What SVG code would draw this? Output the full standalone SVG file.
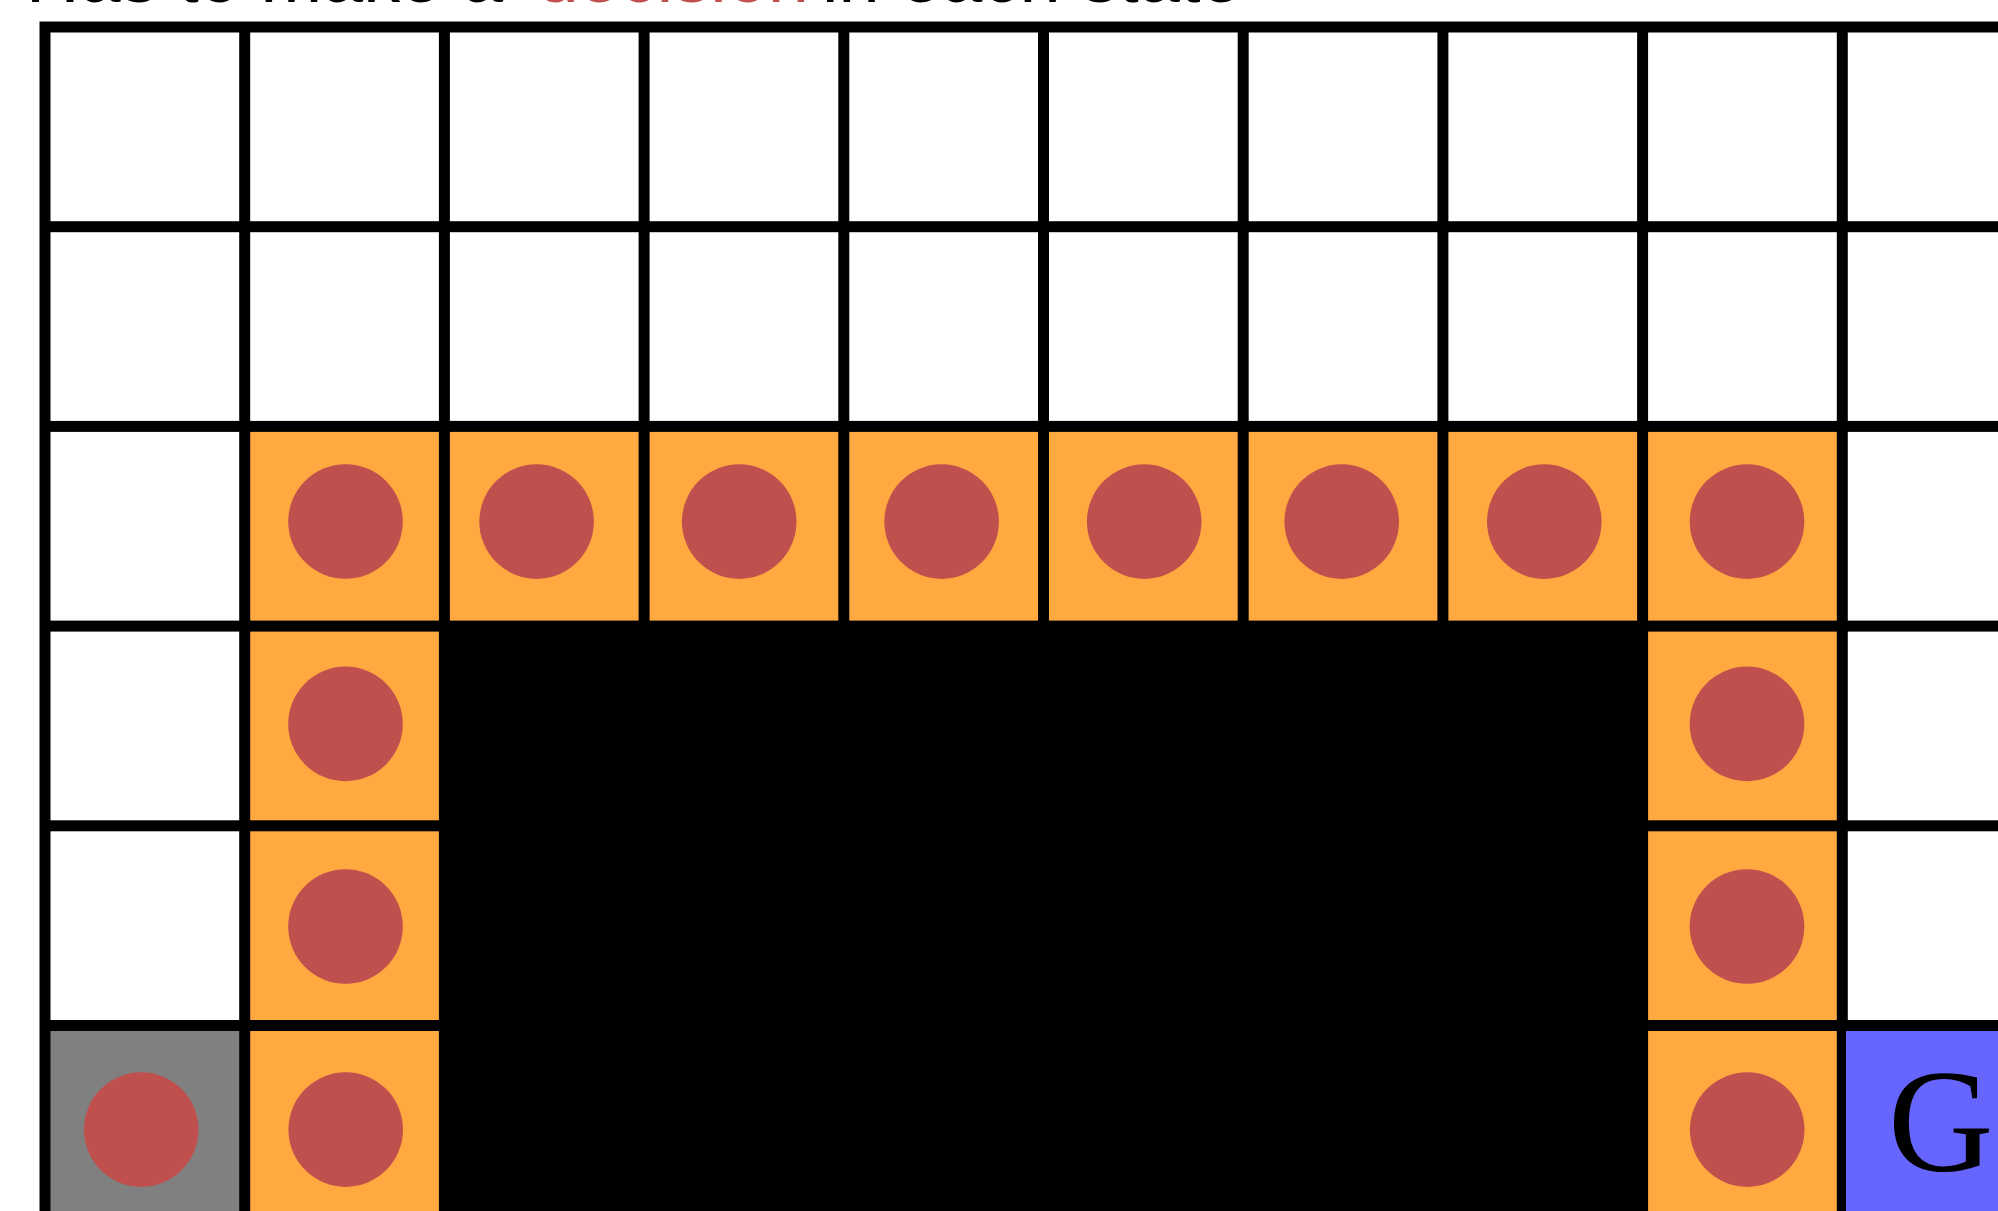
<svg xmlns="http://www.w3.org/2000/svg" width="1998" height="1211" viewBox="0 0 1998 1211">
  <style>
    .w { fill: #FFFFFF; }
    .o { fill: #FFA940; }
    .g { fill: #808080; }
    .b { fill: #6666FF; }
    .dot { fill: #C0504D; }
    .title { font-family: "Liberation Sans", Arial, sans-serif; font-size: 74px; fill: #000000; }
    .red { fill: #C0504D; }
    .goal { font-family: "Liberation Serif", "Times New Roman", serif; font-size: 146px; fill: #000000; }
  </style>
  <rect x="0" y="0" width="1998" height="1211" fill="#FFFFFF"/>

  <g id="title">
    <text class="title" x="26" y="2">Has to make a</text>
    <text class="title red" x="537.5" y="2">decision</text>
    <text class="title" x="822" y="2">in each state</text>
  </g>

  <g id="grid">
    <rect id="walls" x="39.5" y="21.5" width="1958.5" height="1189.5" fill="#000000"/>

    <!-- row 0 -->
    <rect class="w" x="50.5" y="32.5" width="188.7" height="188.7"/>
    <rect class="w" x="250.2" y="32.5" width="188.7" height="188.7"/>
    <rect class="w" x="449.9" y="32.5" width="188.7" height="188.7"/>
    <rect class="w" x="649.6" y="32.5" width="188.7" height="188.7"/>
    <rect class="w" x="849.3" y="32.5" width="188.7" height="188.7"/>
    <rect class="w" x="1049" y="32.5" width="188.7" height="188.7"/>
    <rect class="w" x="1248.7" y="32.5" width="188.7" height="188.7"/>
    <rect class="w" x="1448.4" y="32.5" width="188.7" height="188.7"/>
    <rect class="w" x="1648.1" y="32.5" width="188.7" height="188.7"/>
    <rect class="w" x="1847.8" y="32.5" width="188.7" height="188.7"/>

    <!-- row 1 -->
    <rect class="w" x="50.5" y="232.2" width="188.7" height="188.7"/>
    <rect class="w" x="250.2" y="232.2" width="188.7" height="188.7"/>
    <rect class="w" x="449.9" y="232.2" width="188.7" height="188.7"/>
    <rect class="w" x="649.6" y="232.2" width="188.7" height="188.7"/>
    <rect class="w" x="849.3" y="232.2" width="188.7" height="188.7"/>
    <rect class="w" x="1049" y="232.2" width="188.7" height="188.7"/>
    <rect class="w" x="1248.7" y="232.2" width="188.7" height="188.7"/>
    <rect class="w" x="1448.4" y="232.2" width="188.7" height="188.7"/>
    <rect class="w" x="1648.1" y="232.2" width="188.7" height="188.7"/>
    <rect class="w" x="1847.8" y="232.2" width="188.7" height="188.7"/>

    <!-- row 2 -->
    <rect class="w" x="50.5" y="431.9" width="188.7" height="188.7"/>
    <rect class="o" x="250.2" y="431.9" width="188.7" height="188.7"/>
    <rect class="o" x="449.9" y="431.9" width="188.7" height="188.7"/>
    <rect class="o" x="649.6" y="431.9" width="188.7" height="188.7"/>
    <rect class="o" x="849.3" y="431.9" width="188.7" height="188.7"/>
    <rect class="o" x="1049" y="431.9" width="188.7" height="188.7"/>
    <rect class="o" x="1248.7" y="431.9" width="188.7" height="188.7"/>
    <rect class="o" x="1448.4" y="431.9" width="188.7" height="188.7"/>
    <rect class="o" x="1648.1" y="431.9" width="188.7" height="188.7"/>
    <rect class="w" x="1847.8" y="431.9" width="188.7" height="188.7"/>

    <!-- row 3 -->
    <rect class="w" x="50.5" y="631.6" width="188.7" height="188.7"/>
    <rect class="o" x="250.2" y="631.6" width="188.7" height="188.7"/>
    <rect class="o" x="1648.1" y="631.6" width="188.7" height="188.7"/>
    <rect class="w" x="1847.8" y="631.6" width="188.7" height="188.7"/>

    <!-- row 4 -->
    <rect class="w" x="50.5" y="831.3" width="188.7" height="188.7"/>
    <rect class="o" x="250.2" y="831.3" width="188.7" height="188.7"/>
    <rect class="o" x="1648.1" y="831.3" width="188.7" height="188.7"/>
    <rect class="w" x="1847.8" y="831.3" width="188.7" height="188.7"/>

    <!-- row 5 -->
    <rect id="start" class="g" x="50.5" y="1031" width="188.7" height="188.7"/>
    <rect class="o" x="250.2" y="1031" width="188.7" height="188.7"/>
    <rect class="o" x="1648.1" y="1031" width="188.7" height="188.7"/>
    <rect id="goal-cell" class="b" x="1846" y="1031" width="190" height="188.7"/>
  </g>

  <g id="goal">
    <text class="goal" x="1888" y="1171">G</text>
  </g>

  <g id="path-dots">
    <circle class="dot" cx="345.5" cy="521.5" r="57.3"/>
    <circle class="dot" cx="536.6" cy="521.6" r="57.3"/>
    <circle class="dot" cx="739.2" cy="521.6" r="57.3"/>
    <circle class="dot" cx="941.6" cy="521.6" r="57.3"/>
    <circle class="dot" cx="1144.2" cy="521.6" r="57.3"/>
    <circle class="dot" cx="1341.7" cy="521.6" r="57.3"/>
    <circle class="dot" cx="1544.3" cy="521.6" r="57.3"/>
    <circle class="dot" cx="1747" cy="521.6" r="57.3"/>

    <circle class="dot" cx="345.5" cy="723.9" r="57.3"/>
    <circle class="dot" cx="1747" cy="723.9" r="57.3"/>

    <circle class="dot" cx="345.5" cy="926.5" r="57.3"/>
    <circle class="dot" cx="1747" cy="926.5" r="57.3"/>

    <circle class="dot" cx="141.2" cy="1129.6" r="57.3"/>
    <circle class="dot" cx="345.7" cy="1129.6" r="57.3"/>
    <circle class="dot" cx="1747.2" cy="1129.6" r="57.3"/>
  </g>
</svg>
